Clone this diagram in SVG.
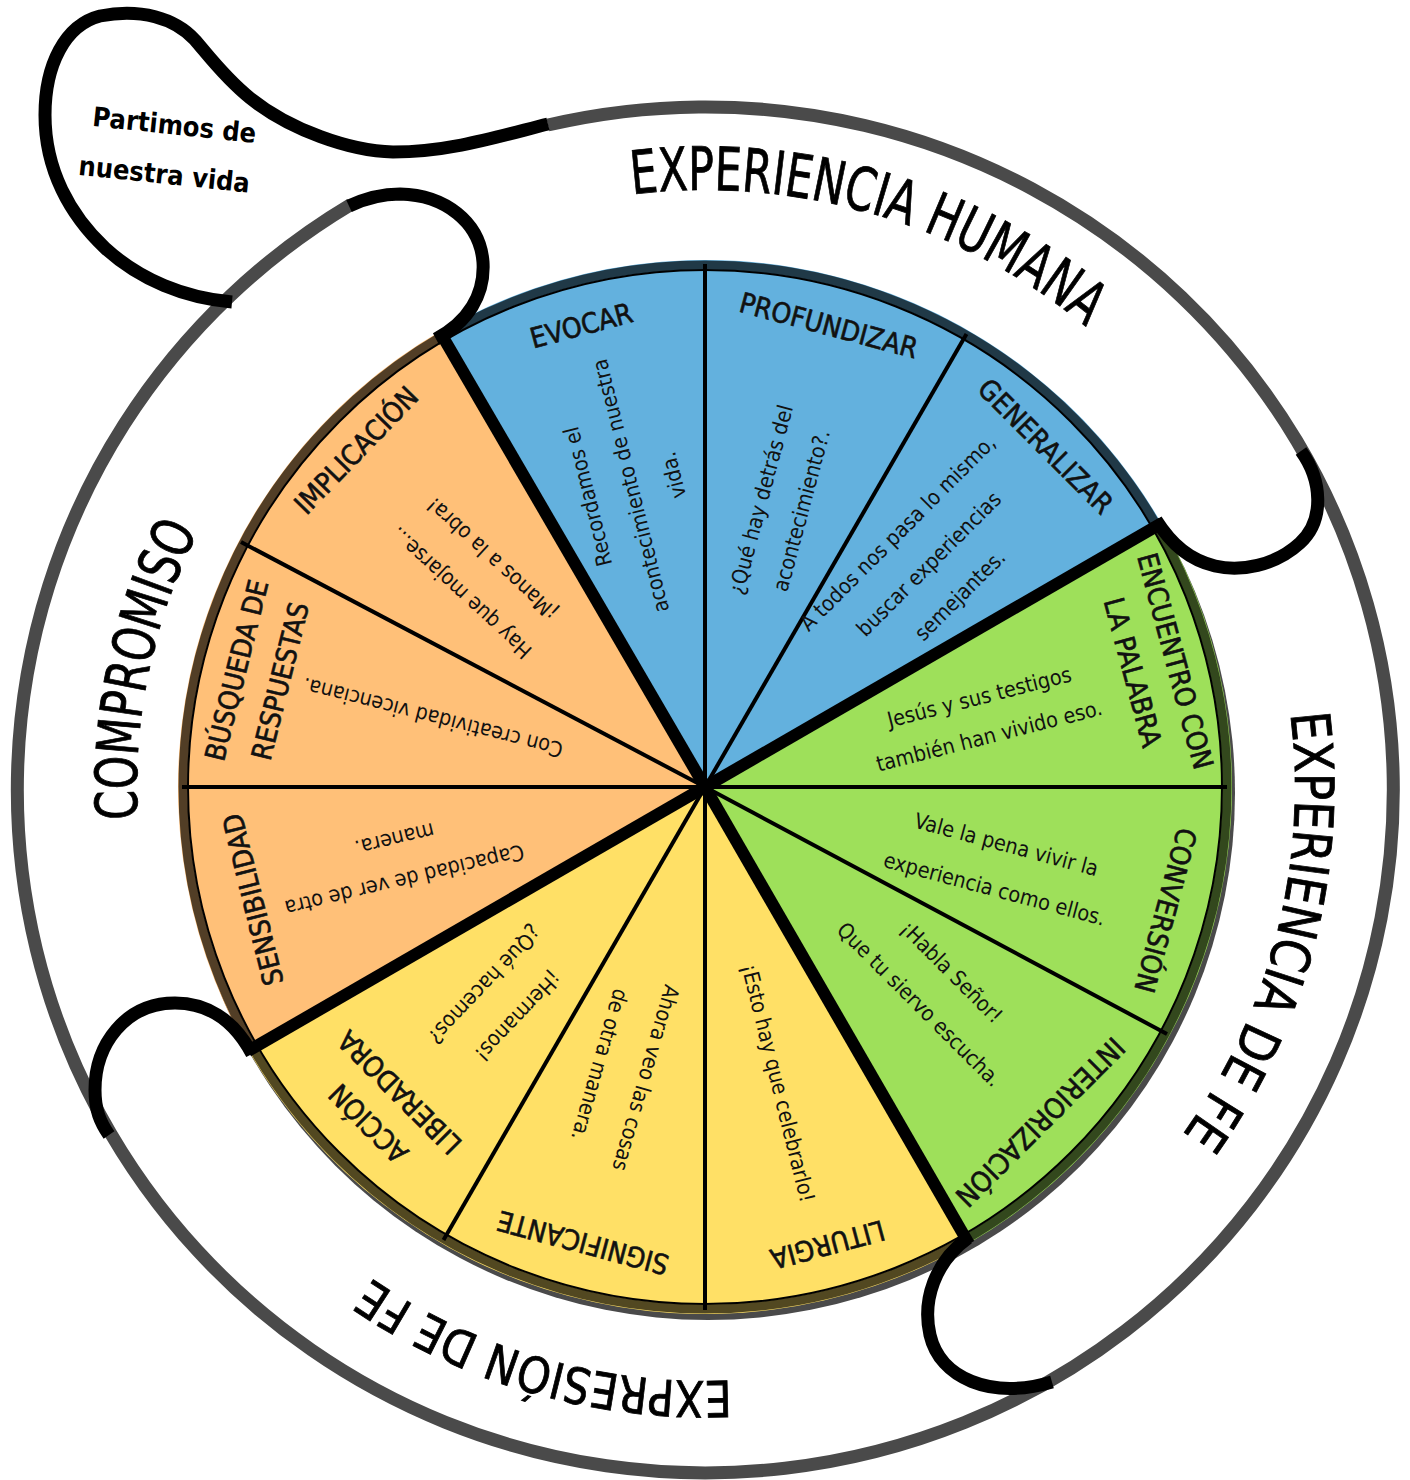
<svg xmlns="http://www.w3.org/2000/svg" width="1410" height="1480" viewBox="0 0 1410 1480">
<defs>
<style>
.ring{fill:none;stroke:#4a4a4a;stroke-width:13}
.loop{fill:none;stroke:#000;stroke-width:13}
.sep{stroke:#000;stroke-width:4}
.sepT{stroke:#000;stroke-width:12}
.f{font-family:"DejaVu Sans Condensed","DejaVu Sans",sans-serif;font-stretch:condensed}
.title{font-size:28px;fill:#111;stroke:#111;stroke-width:0.6;text-anchor:middle}
.body{font-size:21.5px;fill:#111;text-anchor:middle}
.outer{fill:#000;stroke:#000;stroke-width:0.8;text-anchor:middle}
.bubble{font-size:27px;font-weight:bold;fill:#000;text-anchor:middle}
</style>
<path id="tpHum" d="M705,1386 A598 598 0 1 1 705,190 A598 598 0 1 1 705,1386"/>
<path id="tpFe" d="M705,1378 A590 590 0 1 1 705,198 A590 590 0 1 1 705,1378"/>
<path id="tpExp" d="M705,195 A593 593 0 1 1 705,1381 A593 593 0 1 1 705,195"/>
<path id="tpCom" d="M705,1356 A568 568 0 1 1 705,220 A568 568 0 1 1 705,1356"/>
</defs>
<rect width="1410" height="1480" fill="#fff"/>

<!-- outer ring -->
<path class="ring" d="M547.9,125 A688 683 0 1 1 350.7,204.6"/>

<!-- wheel -->
<g id="wheel">
<circle cx="708" cy="793" r="527" fill="#4a4a4a"/>
<path d="M705,787 L441.5,330.6 A527 527 0 0 1 1161.4,523.5 Z" fill="#63b1de"/>
<path d="M705,787 L1161.4,523.5 A527 527 0 0 1 968.5,1243.4 Z" fill="#9ee05a"/>
<path d="M705,787 L968.5,1243.4 A527 527 0 0 1 248.6,1050.5 Z" fill="#ffe066"/>
<path d="M705,787 L248.6,1050.5 A527 527 0 0 1 441.5,330.6 Z" fill="#ffc078"/>
<circle cx="705" cy="787" r="522" fill="none" stroke="#000" stroke-opacity="0.68" stroke-width="9"/>
<circle cx="705" cy="787" r="517" fill="none" stroke="#000" stroke-width="2"/>
<line class="sep" x1="705" y1="787" x2="705" y2="264"/>
<line class="sep" x1="705" y1="787" x2="966.5" y2="334"/>
<line class="sep" x1="705" y1="787" x2="1227" y2="787"/>
<line class="sep" x1="705" y1="787" x2="1167" y2="1034"/>
<line class="sep" x1="705" y1="787" x2="705" y2="1310"/>
<line class="sep" x1="705" y1="787" x2="443.5" y2="1240"/>
<line class="sep" x1="705" y1="787" x2="182" y2="787"/>
<line class="sep" x1="705" y1="787" x2="241" y2="542"/>
<line class="sepT" x1="705" y1="787" x2="440" y2="332"/>
<line class="sepT" x1="705" y1="787" x2="1162" y2="523"/>
<line class="sepT" x1="705" y1="787" x2="969" y2="1244"/>
<line class="sepT" x1="705" y1="787" x2="248" y2="1051"/>
</g>

<!-- connectors (loops) -->
<g id="connectors">
<path class="loop" d="M548,124 C500,136 450,152 393,152 C350,151 290,130 250,98 C225,78 208,55 195,40 C175,18 140,8 100,16 C65,25 45,65 45,115 C45,170 70,215 105,248 C140,280 185,298 232,302"/>
<path class="loop" d="M436,339 C468,322 485,295 483,262 C480,222 445,195 400,194 C383,194 366,198 349,206"/>
<path class="loop" d="M1301,451 C1322,480 1325,520 1300,543 C1275,566 1240,572 1215,566 C1190,560 1172,545 1156,520"/>
<path class="loop" d="M968,1238 C935,1262 922,1300 930,1335 C940,1378 990,1400 1052,1382"/>
<path class="loop" d="M252,1054 C233,1018 205,1003 175,1003 C125,1003 95,1045 95,1090 C95,1110 100,1122 109,1135"/>
</g>

<g id="bubble-partimos" class="f bubble">
<g transform="translate(168,158) rotate(6)">
<text x="3" y="-24">Partimos de</text>
<text x="-2" y="26">nuestra vida</text>
</g>
</g>

<!-- outer labels -->
<g id="label-experiencia-humana" class="f outer"><text font-size="60"><textPath href="#tpHum" startOffset="2049" textLength="486" lengthAdjust="spacingAndGlyphs">EXPERIENCIA HUMANA</textPath></text></g>
<g id="label-experiencia-fe" class="f outer"><text font-size="54"><textPath href="#tpFe" startOffset="2928" textLength="445" lengthAdjust="spacingAndGlyphs">EXPERIENCIA DE FE</textPath></text></g>
<g id="label-expresion-fe" class="f outer"><text font-size="50"><textPath href="#tpExp" startOffset="2027" textLength="381" lengthAdjust="spacingAndGlyphs">EXPRESIÓN DE FE</textPath></text></g>
<g id="label-compromiso" class="f outer"><text font-size="58"><textPath href="#tpCom" startOffset="1010" textLength="298" lengthAdjust="spacingAndGlyphs">COMPROMISO</textPath></text></g>

<!-- segments -->
<g id="seg-evocar" class="f">
<text class="title" transform="translate(581.3,325.3) rotate(-15)" y="10">EVOCAR</text>
<text class="body" transform="translate(630,486) rotate(-104)"><tspan x="0" y="-36">Recordamos el</tspan><tspan x="0" y="8">acontecimiento de nuestra</tspan><tspan x="0" y="52">vida.</tspan></text>
</g>
<g id="seg-profundizar" class="f">
<text class="title" transform="translate(828.7,325.3) rotate(15)" y="10">PROFUNDIZAR</text>
<text class="body" transform="translate(780.6,504.9) rotate(-75)"><tspan x="0" y="-13">¿Qué hay detrás del</tspan><tspan x="0" y="29">acontecimiento?.</tspan></text>
</g>
<g id="seg-generalizar" class="f">
<text class="title" transform="translate(1045.8,446.2) rotate(45)" y="10">GENERALIZAR</text>
<text class="body" transform="translate(928.4,563.6) rotate(-45)"><tspan x="0" y="-36">A todos nos pasa lo mismo,</tspan><tspan x="0" y="8">buscar experiencias</tspan><tspan x="0" y="52">semejantes.</tspan></text>
</g>
<g id="seg-encuentro" class="f">
<text class="title" transform="translate(1175.4,661) rotate(75)" y="10">ENCUENTRO CON</text>
<text class="title" transform="translate(1132.9,672.3) rotate(75)" y="10">LA PALABRA</text>
<text class="body" transform="translate(984.1,715.9) rotate(-14.3)"><tspan x="0" y="-12">Jesús y sus testigos</tspan><tspan x="0" y="28">también han vivido eso.</tspan></text>
</g>
<g id="seg-conversion" class="f">
<text class="title" transform="translate(1165.7,910.4) rotate(105)" y="10">CONVERSIÓN</text>
<text class="body" transform="translate(1000.6,866.2) rotate(15)"><tspan x="0" y="-15">Vale la pena vivir la</tspan><tspan x="0" y="31">experiencia como ellos.</tspan></text>
</g>
<g id="seg-interiorizacion" class="f">
<text class="title" transform="translate(1040.2,1122.2) rotate(135)" y="10">INTERIORIZACIÓN</text>
<text class="body" transform="translate(935.9,987.8) rotate(45)"><tspan x="0" y="-15">¡Habla Señor!</tspan><tspan x="0" y="31">Que tu siervo escucha.</tspan></text>
</g>
<g id="seg-liturgia" class="f">
<text class="title" transform="translate(827.7,1244.8) rotate(165)" y="10">LITURGIA</text>
<text class="body" transform="translate(778.8,1082.9) rotate(76)" y="8">¡Esto hay que celebrarlo!</text>
</g>
<g id="seg-significante" class="f">
<text class="title" transform="translate(582.8,1242.9) rotate(195)" y="10">SIGNIFICANTE</text>
<text class="body" transform="translate(623.4,1071.5) rotate(106)"><tspan x="0" y="-16">Ahora veo las cosas</tspan><tspan x="0" y="32">de otra manera.</tspan></text>
</g>
<g id="seg-accion" class="f">
<text class="title" transform="translate(368.4,1123.6) rotate(225)" y="10">ACCIÓN</text>
<text class="title" transform="translate(399.5,1092.5) rotate(225)" y="10">LIBERADORA</text>
<text class="body" transform="translate(501.9,1001) rotate(133.5)"><tspan x="0" y="-15">¡Hermanos!</tspan><tspan x="0" y="31">¿Qué hacemos?</tspan></text>
</g>
<g id="seg-sensibilidad" class="f">
<text class="title" transform="translate(252.8,899.7) rotate(256)" y="10">SENSIBILIDAD</text>
<text class="body" transform="translate(399.7,860.3) rotate(166.5)"><tspan x="0" y="-13">Capacidad de ver de otra</tspan><tspan x="0" y="29">manera.</tspan></text>
</g>
<g id="seg-busqueda" class="f">
<text class="title" transform="translate(236.4,670.2) rotate(284)" y="10">BÚSQUEDA DE</text>
<text class="title" transform="translate(280,681) rotate(284)" y="10">RESPUESTAS</text>
<text class="body" transform="translate(432.6,718.1) rotate(194.2)" y="8">Con creatividad vicenciana.</text>
</g>
<g id="seg-implicacion" class="f">
<text class="title" transform="translate(356.1,450.1) rotate(314)" y="10">IMPLICACIÓN</text>
<text class="body" transform="translate(476.2,576.4) rotate(-137.4)"><tspan x="0" y="-15">Hay que mojarse...</tspan><tspan x="0" y="31">¡Manos a la obra!</tspan></text>
</g>
</svg>
